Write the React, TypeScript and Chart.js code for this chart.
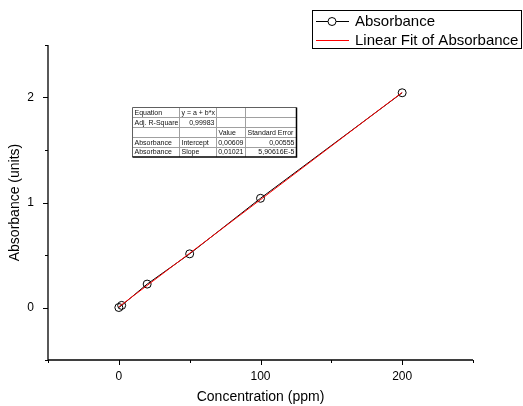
import { useEffect, useRef } from "react";
import { Chart, registerables } from "chart.js";

Chart.register(...registerables);

const FONT = "'Liberation Sans', Arial, sans-serif";

// Data
const concentration = [0, 2, 20, 50, 100, 200];
const absorbance = [0.0, 0.02, 0.223, 0.511, 1.04, 2.045];
const fitX = [0, 200];
const fitY = [0.00609, 2.04809];

const xLabeledTicks = [0, 100, 200];
const yLabeledTicks = [0, 1, 2];

const seriesName = "Absorbance";
const fitName = "Linear Fit of Absorbance";

const tableRows = [
  ["Equation", "y = a + b*x", "", ""],
  ["Adj. R-Square", "0,99983", "", ""],
  ["", "", "Value", "Standard Error"],
  ["Absorbance", "Intercept", "0,00609", "0,00555"],
  ["Absorbance", "Slope", "0,01021", "5,90616E-5"],
];
const tableRightAligned = [
  [false, false, false, false],
  [false, true, false, false],
  [false, false, false, false],
  [false, false, true, true],
  [false, false, true, true],
];

const axesPlugin = {
  id: "originAxes",
  afterDraw(chart: any) {
    const { ctx, chartArea: a, scales } = chart;
    const x = scales.x;
    const y = scales.y;
    ctx.save();
    ctx.strokeStyle = "#000";
    ctx.lineWidth = 1.3;
    ctx.beginPath();
    ctx.moveTo(a.left, a.top);
    ctx.lineTo(a.left, a.bottom);
    ctx.lineTo(a.right, a.bottom);
    ctx.stroke();
    ctx.lineWidth = 1;
    ctx.beginPath();
    y.ticks.forEach((t: any) => {
      const py = Math.round(y.getPixelForValue(t.value)) + 0.5;
      const len = yLabeledTicks.includes(t.value) ? 5 : 3;
      ctx.moveTo(a.left - len, py);
      ctx.lineTo(a.left, py);
    });
    x.ticks.forEach((t: any) => {
      const px = Math.round(x.getPixelForValue(t.value)) + 0.5;
      const len = xLabeledTicks.includes(t.value) ? 5 : 3;
      ctx.moveTo(px, a.bottom);
      ctx.lineTo(px, a.bottom + len);
    });
    ctx.stroke();
    ctx.restore();
  },
};

const legendPlugin = {
  id: "originLegend",
  afterDraw(chart: any) {
    const { ctx } = chart;
    ctx.save();
    const L = 312.5, T = 10.5, R = 521.5, B = 48.5;
    ctx.fillStyle = "#fff";
    ctx.fillRect(L, T, R - L, B - T);
    ctx.strokeStyle = "#000";
    ctx.lineWidth = 1;
    ctx.strokeRect(L, T, R - L, B - T);
    const r1 = 21.5, r2 = 40.5;
    // series symbol
    ctx.beginPath();
    ctx.moveTo(316, r1);
    ctx.lineTo(328, r1);
    ctx.moveTo(336, r1);
    ctx.lineTo(349, r1);
    ctx.stroke();
    ctx.beginPath();
    ctx.arc(332, r1, 4, 0, Math.PI * 2);
    ctx.stroke();
    // fit symbol
    ctx.strokeStyle = "#ff0000";
    ctx.beginPath();
    ctx.moveTo(316, r2);
    ctx.lineTo(349, r2);
    ctx.stroke();
    ctx.fillStyle = "#000";
    ctx.font = `15px ${FONT}`;
    ctx.textBaseline = "middle";
    ctx.textAlign = "left";
    ctx.fillText(seriesName, 355, r1);
    ctx.fillText(fitName, 355, r2);
    ctx.restore();
  },
};

const tablePlugin = {
  id: "fitTable",
  afterDraw(chart: any) {
    const { ctx } = chart;
    const cols = [132.5, 179.5, 216.5, 245.5, 296.5];
    const top = 107.5;
    const rh = 9.9;
    const rows = tableRows.map((_, i) => top + i * rh);
    const bottom = top + tableRows.length * rh;
    ctx.save();
    ctx.fillStyle = "#fff";
    ctx.fillRect(cols[0], top, cols[4] - cols[0], bottom - top);
    ctx.strokeStyle = "#a0a0a0";
    ctx.lineWidth = 1;
    ctx.beginPath();
    for (let i = 1; i < tableRows.length; i++) {
      const yy = Math.round(rows[i]) + 0.5;
      ctx.moveTo(cols[0], yy);
      ctx.lineTo(cols[4], yy);
    }
    for (let j = 1; j < 4; j++) {
      ctx.moveTo(cols[j], top);
      ctx.lineTo(cols[j], bottom);
    }
    ctx.stroke();
    ctx.strokeStyle = "#606060";
    ctx.beginPath();
    ctx.moveTo(cols[0], bottom);
    ctx.lineTo(cols[0], top);
    ctx.lineTo(cols[4], top);
    ctx.stroke();
    ctx.strokeStyle = "#000";
    ctx.lineWidth = 1.5;
    ctx.beginPath();
    ctx.moveTo(cols[4], top);
    ctx.lineTo(cols[4], bottom);
    ctx.lineTo(cols[0], bottom);
    ctx.stroke();
    ctx.fillStyle = "#111";
    ctx.font = `7px ${FONT}`;
    ctx.textBaseline = "middle";
    tableRows.forEach((row, i) => {
      const cy = rows[i] + rh / 2 + 0.5;
      row.forEach((txt, j) => {
        if (!txt) return;
        if (tableRightAligned[i][j]) {
          ctx.textAlign = "right";
          ctx.fillText(txt, cols[j + 1] - 2, cy);
        } else {
          ctx.textAlign = "left";
          ctx.fillText(txt, cols[j] + 2, cy);
        }
      });
    });
    ctx.restore();
  },
};

export default function App() {
  const ref = useRef<HTMLCanvasElement | null>(null);

  useEffect(() => {
    document.body.style.margin = "0";
    const canvas = ref.current;
    if (!canvas) return;
    const chart = new Chart(canvas, {
      type: "scatter",
      data: {
        datasets: [
          {
            label: fitName,
            data: fitX.map((v, i) => ({ x: v, y: fitY[i] })),
            showLine: true,
            borderColor: "#ff0000",
            borderWidth: 1,
            pointRadius: 0,
            order: 0,
          },
          {
            label: seriesName,
            data: concentration.map((v, i) => ({ x: v, y: absorbance[i] })),
            showLine: true,
            borderColor: "#000",
            borderWidth: 1,
            pointRadius: 4,
            pointBorderWidth: 1,
            pointBorderColor: "#000",
            pointBackgroundColor: "rgba(0,0,0,0)",
            backgroundColor: "rgba(0,0,0,0)",
            order: 1,
          },
        ],
      },
      options: {
        animation: false,
        responsive: false,
        layout: { padding: { top: 45, right: 50, left: 0, bottom: 0 } },
        plugins: {
          legend: { display: false },
          tooltip: { enabled: false },
        },
        scales: {
          x: {
            type: "linear",
            min: -50,
            max: 250,
            grid: { display: false, drawTicks: false },
            border: { display: false },
            ticks: {
              stepSize: 50,
              padding: 9,
              color: "#000",
              font: { family: FONT, size: 12 },
              maxRotation: 0,
              callback: (v: any) => (xLabeledTicks.includes(Number(v)) ? String(v) : ""),
            },
            title: {
              display: true,
              text: "Concentration (ppm)",
              color: "#000",
              font: { family: FONT, size: 14 },
              padding: { top: 0, bottom: 0 },
            },
            afterFit: (s: any) => {
              s.height = 46;
            },
          },
          y: {
            type: "linear",
            min: -0.5,
            max: 2.5,
            grid: { display: false, drawTicks: false },
            border: { display: false },
            ticks: {
              stepSize: 0.5,
              padding: 14,
              color: "#000",
              font: { family: FONT, size: 12 },
              callback: (v: any) => (yLabeledTicks.includes(Number(v)) ? String(v) : ""),
            },
            title: {
              display: true,
              text: "Absorbance (units)",
              color: "#000",
              font: { family: FONT, size: 14 },
              padding: { top: 7, bottom: 0 },
            },
            afterFit: (s: any) => {
              s.width = 48;
            },
          },
        },
      },
      plugins: [axesPlugin, tablePlugin, legendPlugin],
    });
    return () => chart.destroy();
  }, []);

  return (
    <div style={{ position: "absolute", left: 0, top: 0, width: 523, height: 406, background: "#fff" }}>
      <canvas ref={ref} width={523} height={406} style={{ display: "block" }} />
    </div>
  );
}
